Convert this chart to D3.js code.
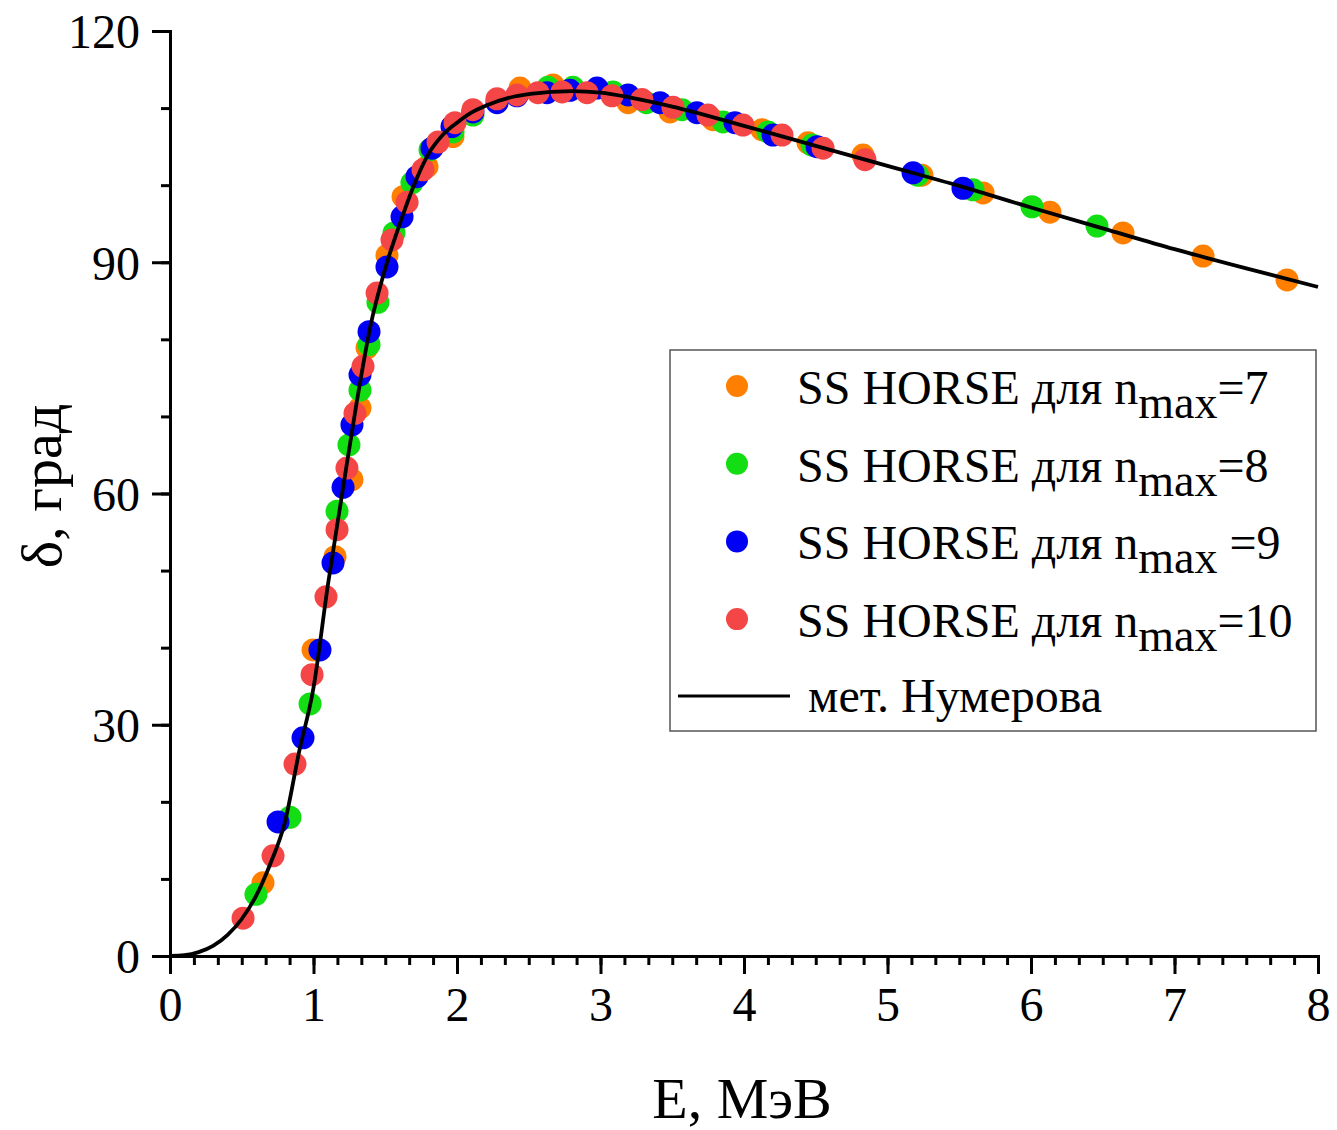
<!DOCTYPE html>
<html>
<head>
<meta charset="utf-8">
<script src="https://cdn.jsdelivr.net/npm/d3@7"></script>
<style>
  body { margin: 0; background: #fff; }
  svg { display: block; font-family: "Liberation Serif", "Times New Roman", serif; }
</style>
</head>
<body>
<div id="chart"></div>
<script>
// SS HORSE, n_max = 7
const e7 = [0.648, 0.997, 1.150, 1.268, 1.324, 1.373, 1.512, 1.624, 1.791, 1.972, 2.279, 2.439, 2.669, 3.192, 3.484, 3.784, 4.125, 4.446, 4.829, 5.240, 5.666, 6.132, 6.641, 7.199, 7.784];
const d7 = [9.5, 39.7, 51.8, 61.8, 71.1, 78.9, 90.9, 98.5, 102.4, 106.3, 111.1, 112.6, 113.0, 110.7, 109.5, 108.5, 107.2, 105.5, 103.9, 101.3, 99.0, 96.5, 93.8, 90.8, 87.7];
// n_max = 8
const e8 = [0.599, 0.836, 0.976, 1.164, 1.247, 1.324, 1.387, 1.449, 1.561, 1.686, 1.812, 1.972, 2.111, 2.634, 2.808, 3.087, 3.320, 3.568, 3.854, 4.167, 4.474, 5.210, 5.596, 6.007, 6.460];
const d8 = [8.0, 18.0, 32.7, 57.7, 66.3, 73.4, 79.3, 84.8, 93.8, 100.3, 104.6, 106.9, 109.1, 112.7, 112.7, 112.1, 110.7, 109.8, 108.2, 106.9, 105.2, 101.3, 99.4, 97.2, 94.7];
// n_max = 9
const e9 = [0.753, 0.927, 1.045, 1.136, 1.206, 1.268, 1.324, 1.387, 1.512, 1.617, 1.721, 1.826, 1.965, 2.111, 2.279, 2.418, 2.627, 2.787, 2.976, 3.192, 3.415, 3.672, 3.937, 4.202, 4.509, 5.178, 5.526];
const d9 = [17.4, 28.3, 39.7, 51.0, 60.8, 68.9, 75.4, 81.0, 89.4, 95.9, 101.1, 104.8, 107.6, 109.5, 110.7, 111.6, 112.0, 112.3, 112.6, 111.7, 110.7, 109.4, 108.1, 106.5, 105.0, 101.6, 99.6];
// n_max = 10
const e10 = [0.509, 0.718, 0.871, 0.990, 1.087, 1.164, 1.233, 1.289, 1.345, 1.443, 1.547, 1.652, 1.763, 1.868, 1.986, 2.111, 2.279, 2.418, 2.564, 2.732, 2.906, 3.080, 3.289, 3.505, 3.749, 3.993, 4.265, 4.551, 4.843];
const d10 = [4.9, 13.0, 24.9, 36.5, 46.6, 55.3, 63.3, 70.4, 76.5, 86.0, 92.9, 97.8, 102.0, 105.6, 108.1, 109.8, 111.2, 111.7, 112.0, 112.1, 112.0, 111.6, 111.1, 110.1, 109.1, 107.8, 106.5, 104.8, 103.3];
// Numerov method curve
const eLine = [0, 0.1, 0.2, 0.3, 0.4, 0.5, 0.6, 0.7, 0.8, 0.9, 1.0, 1.1, 1.2, 1.3, 1.4, 1.5, 1.6, 1.7, 1.8, 1.9, 2.0, 2.1, 2.2, 2.4, 2.6, 2.8, 3.0, 3.2, 3.5, 4.0, 4.5, 5.0, 5.5, 6.0, 6.5, 7.0, 7.5, 8.0];
const dLine = [0, 0.1, 0.5, 1.3, 2.7, 4.8, 7.8, 12.0, 17.3, 26.5, 34.8, 48.1, 60.0, 71.7, 82.0, 89.2, 94.9, 100.0, 104.0, 106.5, 108.1, 109.4, 110.3, 111.5, 112.0, 112.2, 112.0, 111.4, 110.2, 107.7, 105.1, 102.5, 99.9, 97.1, 94.4, 91.7, 89.2, 86.8];

const colors = ["#ff8000", "#13dd13", "#0000f5", "#f44646"];
const legendLabels = [
  ["SS HORSE для n", "max", "=7"],
  ["SS HORSE для n", "max", "=8"],
  ["SS HORSE для n", "max", " =9"],
  ["SS HORSE для n", "max", "=10"]
];
const xMajor = [0, 1, 2, 3, 4, 5, 6, 7, 8];
const yMajor = [0, 30, 60, 90, 120];

const width = 1337, height = 1130;
const x = d3.scaleLinear().domain([0, 8]).range([170, 1318]);
const y = d3.scaleLinear().domain([0, 120]).range([956, 31]);

const svg = d3.select("#chart").append("svg")
  .attr("width", width).attr("height", height);

const series = [[e7, d7], [e8, d8], [e9, d9], [e10, d10]].map(([es, ds], i) =>
  es.map((e, j) => ({e, d: ds[j], c: colors[i]})));

const lineData = eLine.map((e, i) => [e, dLine[i]]);
const line = d3.line().x(d => x(d[0])).y(d => y(d[1])).curve(d3.curveMonotoneX);

// points, red on top
series.forEach(s => {
  svg.append("g")
    .selectAll("circle")
    .data(s)
    .join("circle")
      .attr("cx", d => x(d.e))
      .attr("cy", d => y(d.d))
      .attr("r", 11.5)
      .attr("fill", d => d.c);
});

// curve over points
svg.append("path")
  .datum(lineData)
  .attr("fill", "none")
  .attr("stroke", "#000")
  .attr("stroke-width", 3.8)
  .attr("d", line);

// axes
const styleAxis = g => {
  g.select(".domain").attr("stroke-width", 3);
  g.selectAll(".tick line").attr("stroke-width", 3);
  g.selectAll(".tick text").attr("font-size", 48).attr("fill", "#000")
    .attr("font-family", "Liberation Serif, Times New Roman, serif");
};

const xMinor = d3.range(0, 8.0001, 1 / 6);
svg.append("g")
  .attr("transform", "translate(0,956)")
  .call(d3.axisBottom(x).tickValues(xMinor).tickSize(9).tickFormat(""))
  .call(styleAxis);
svg.append("g")
  .attr("transform", "translate(0,956)")
  .call(d3.axisBottom(x).tickValues(xMajor).tickSize(18).tickPadding(6).tickSizeOuter(0))
  .call(styleAxis)
  .call(g => g.selectAll(".tick text").attr("dy", "0.85em"));

svg.append("g")
  .attr("transform", "translate(170,0)")
  .call(d3.axisLeft(y).tickValues(d3.range(0, 121, 10)).tickSize(9).tickFormat(""))
  .call(styleAxis);
svg.append("g")
  .attr("transform", "translate(170,0)")
  .call(d3.axisLeft(y).tickValues(yMajor).tickSize(18).tickPadding(12).tickSizeOuter(0))
  .call(styleAxis)
  .call(g => g.selectAll(".tick text").attr("dy", "0.35em"));

// axis titles
svg.append("text")
  .attr("x", 742).attr("y", 1118)
  .attr("text-anchor", "middle")
  .attr("font-size", 58)
  .text("E, МэВ");

svg.append("text")
  .attr("transform", "translate(61,486) rotate(-90)")
  .attr("text-anchor", "middle")
  .attr("font-size", 58)
  .text("δ, град");

// legend
const legend = svg.append("g");
legend.append("rect")
  .attr("x", 670).attr("y", 350)
  .attr("width", 646).attr("height", 381)
  .attr("fill", "none")
  .attr("stroke", "#555")
  .attr("stroke-width", 1.5);

legendLabels.forEach((lab, i) => {
  const cy = 386 + i * 77.7;
  legend.append("circle")
    .attr("cx", 737).attr("cy", cy).attr("r", 11)
    .attr("fill", colors[i]);
  const t = legend.append("text")
    .attr("x", 797).attr("y", cy + 18)
    .attr("font-size", 48);
  t.append("tspan").text(lab[0]);
  t.append("tspan").attr("font-size", 46).attr("dy", 14).text(lab[1]);
  t.append("tspan").attr("dy", -14).text(lab[2]);
});

legend.append("line")
  .attr("x1", 678).attr("x2", 790)
  .attr("y1", 696).attr("y2", 696)
  .attr("stroke", "#000").attr("stroke-width", 3);
legend.append("text")
  .attr("x", 808).attr("y", 712)
  .attr("font-size", 48)
  .text("мет. Нумерова");
</script>
</body>
</html>
